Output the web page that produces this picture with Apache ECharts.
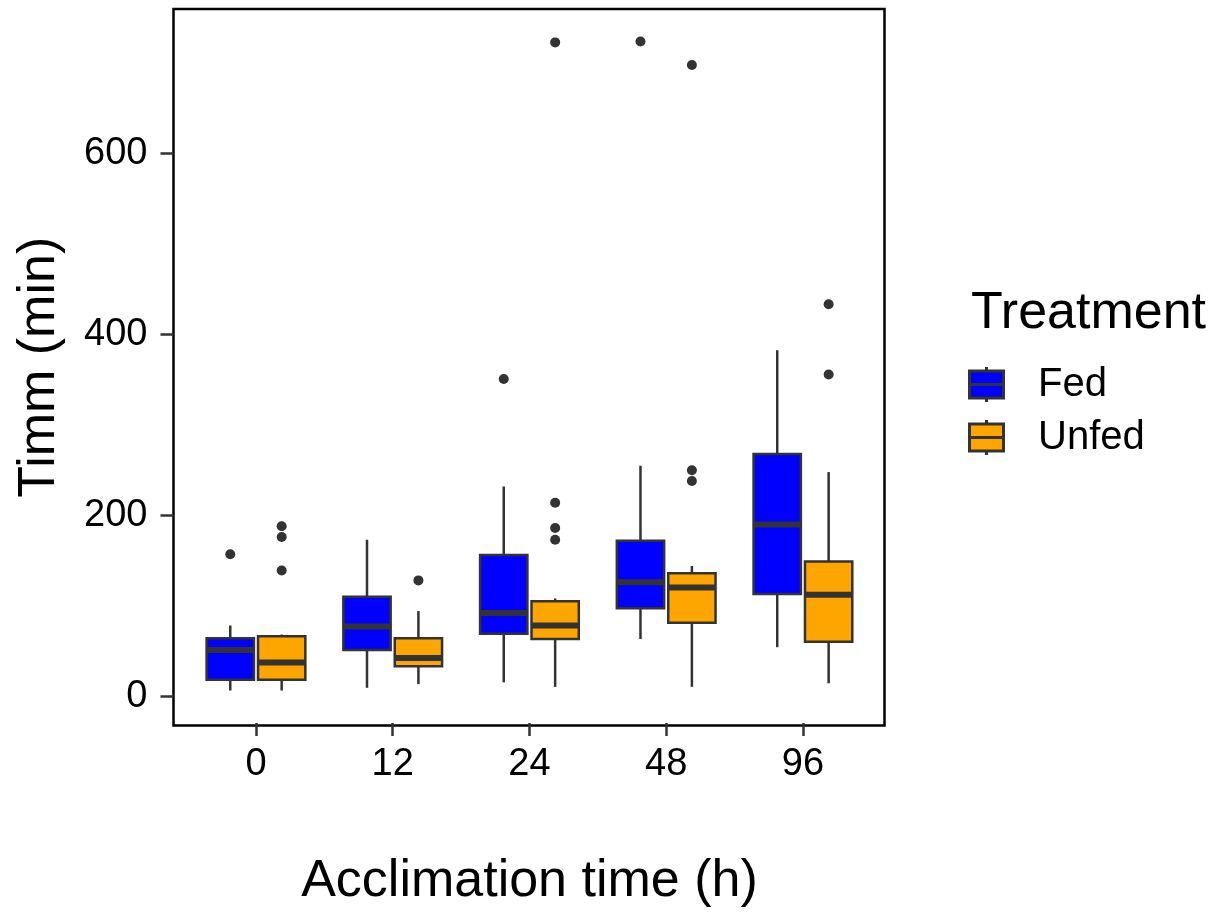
<!DOCTYPE html>
<html>
<head>
<meta charset="utf-8">
<script src="https://cdn.jsdelivr.net/npm/echarts@6/dist/echarts.min.js"></script>
<style>
  html, body { margin: 0; padding: 0; background: #fff; }
  #chart { width: 1215px; height: 913px; }
</style>
</head>
<body>
<div id="chart"></div>
<script>
// acclimation time categories
var categories = ['0', '12', '24', '48', '96'];
var yTicks = [0, 200, 400, 600];

// [lower whisker, Q1, median, Q3, upper whisker]
var fedBoxes = [
  [4, 16, 49, 62, 76],
  [7, 49, 75, 108, 171],
  [13, 67, 90, 154, 230],
  [61, 95, 124, 170, 253],
  [52, 111, 188, 266, 381]
];
var unfedBoxes = [
  [4, 16, 35, 64, 66],
  [11, 31, 40, 62, 92],
  [8, 61, 76, 103, 106],
  [8, 79, 118, 134, 142],
  [12, 58, 110, 147, 246]
];
// outliers per category
var fedOutliers = [[155], [], [349], [723], []];
var unfedOutliers = [[137, 174, 186], [126], [171, 184, 212, 722], [236, 248, 697], [354, 432]];

var fedColor = '#0000FF';
var unfedColor = '#FFA500';
var lineColor = '#333333';
var font = "'Liberation Sans', Arial, sans-serif";
var boxFrac = 0.346;
var dodge = 0.188;

function boxData(rows) {
  return rows.map(function (r, i) { return [i].concat(r); });
}
function outlierData(lists) {
  var out = [];
  lists.forEach(function (l, i) {
    l.forEach(function (v) { out.push([i, v]); });
  });
  return out;
}

function boxRenderer(shift, fill) {
  return function (params, api) {
    var cat = api.value(0);
    var band = api.size([1, 0])[0];
    var cx = api.coord([cat, 0])[0] + shift * band;
    var w = boxFrac * band;
    var yLo = api.coord([cat, api.value(1)])[1];
    var yQ1 = api.coord([cat, api.value(2)])[1];
    var yMed = api.coord([cat, api.value(3)])[1];
    var yQ3 = api.coord([cat, api.value(4)])[1];
    var yHi = api.coord([cat, api.value(5)])[1];
    var lineStyle = { stroke: lineColor, lineWidth: 2.5 };
    return {
      type: 'group',
      children: [
        { type: 'line', shape: { x1: cx, y1: yHi, x2: cx, y2: yQ3 }, style: lineStyle },
        { type: 'line', shape: { x1: cx, y1: yQ1, x2: cx, y2: yLo }, style: lineStyle },
        { type: 'rect', shape: { x: cx - w / 2, y: yQ3, width: w, height: yQ1 - yQ3 },
          style: { fill: fill, stroke: lineColor, lineWidth: 2.5 } },
        { type: 'line', shape: { x1: cx - w / 2, y1: yMed, x2: cx + w / 2, y2: yMed },
          style: { stroke: lineColor, lineWidth: 6 } }
      ]
    };
  };
}

function outlierRenderer(shift) {
  return function (params, api) {
    var cat = api.value(0);
    var band = api.size([1, 0])[0];
    var p = api.coord([cat, api.value(1)]);
    return {
      type: 'circle',
      shape: { cx: p[0] + shift * band, cy: p[1], r: 5 },
      style: { fill: lineColor }
    };
  };
}

var legendIcon = 'path://M18.5 0L18.5 4M1.5 4L35.5 4L35.5 31L1.5 31ZM1.5 17.5L35.5 17.5M18.5 31L18.5 35';

var chart = echarts.init(document.getElementById('chart'), null, { renderer: 'canvas' });

var option = {
  backgroundColor: '#ffffff',
  animation: false,
  textStyle: { fontFamily: font },
  title: {
    text: 'Treatment',
    left: 971,
    top: 288,
    padding: 0,
    textStyle: { fontFamily: font, fontSize: 52, fontWeight: 'normal', color: '#000' }
  },
  legend: {
    orient: 'vertical',
    left: 968,
    top: 364.5,
    padding: 0,
    itemWidth: 37,
    itemHeight: 35,
    itemGap: 13,
    textStyle: { fontFamily: font, fontSize: 40, color: '#000', padding: [0, 0, 0, 28] },
    data: [
      { name: 'Fed', icon: legendIcon, itemStyle: { color: fedColor, borderColor: lineColor, borderWidth: 3 } },
      { name: 'Unfed', icon: legendIcon, itemStyle: { color: unfedColor, borderColor: lineColor, borderWidth: 3 } }
    ]
  },
  grid: [
    { left: 187.6, right: 343.7, top: 9, bottom: 187.5 },
    { left: 173.5, right: 330.5, top: 9, bottom: 187.5, show: true, borderColor: '#000', borderWidth: 2.5, backgroundColor: 'transparent' }
  ],
  xAxis: [
    {
      type: 'category',
      gridIndex: 0,
      data: categories,
      name: 'Acclimation time (h)',
      nameLocation: 'middle',
      nameGap: 133,
      nameTextStyle: { fontFamily: font, fontSize: 52, color: '#000' },
      axisLine: { show: false, onZero: false },
      axisTick: { show: true, alignWithLabel: true, length: 13, lineStyle: { color: lineColor, width: 2.5 } },
      axisLabel: { fontFamily: font, fontSize: 38, color: '#000', margin: 23 },
      splitLine: { show: false }
    },
    { type: 'value', gridIndex: 1, show: false }
  ],
  yAxis: [
    { type: 'value', gridIndex: 0, min: -32, max: 759, show: false, splitLine: { show: false } },
    {
      type: 'value',
      gridIndex: 1,
      min: -32,
      max: 759,
      name: 'Timm (min)',
      nameLocation: 'middle',
      nameGap: 108,
      nameTextStyle: { fontFamily: font, fontSize: 52, color: '#000' },
      axisLine: { show: false },
      axisTick: { show: true, length: 13, customValues: yTicks, lineStyle: { color: lineColor, width: 2.5 } },
      axisLabel: { fontFamily: font, fontSize: 38, color: '#000', margin: 26, customValues: yTicks },
      splitLine: { show: false }
    }
  ],
  series: [
    {
      name: 'Fed',
      type: 'custom',
      xAxisIndex: 0,
      yAxisIndex: 0,
      itemStyle: { color: fedColor, borderColor: lineColor },
      encode: { x: 0, y: [1, 2, 3, 4, 5] },
      renderItem: boxRenderer(-dodge, fedColor),
      data: boxData(fedBoxes)
    },
    {
      name: 'Unfed',
      type: 'custom',
      xAxisIndex: 0,
      yAxisIndex: 0,
      itemStyle: { color: unfedColor, borderColor: lineColor },
      encode: { x: 0, y: [1, 2, 3, 4, 5] },
      renderItem: boxRenderer(dodge, unfedColor),
      data: boxData(unfedBoxes)
    },
    {
      name: 'Fed outliers',
      type: 'custom',
      xAxisIndex: 0,
      yAxisIndex: 0,
      encode: { x: 0, y: 1 },
      renderItem: outlierRenderer(-dodge),
      data: outlierData(fedOutliers)
    },
    {
      name: 'Unfed outliers',
      type: 'custom',
      xAxisIndex: 0,
      yAxisIndex: 0,
      encode: { x: 0, y: 1 },
      renderItem: outlierRenderer(dodge),
      data: outlierData(unfedOutliers)
    }
  ]
};

chart.setOption(option);
</script>
</body>
</html>
